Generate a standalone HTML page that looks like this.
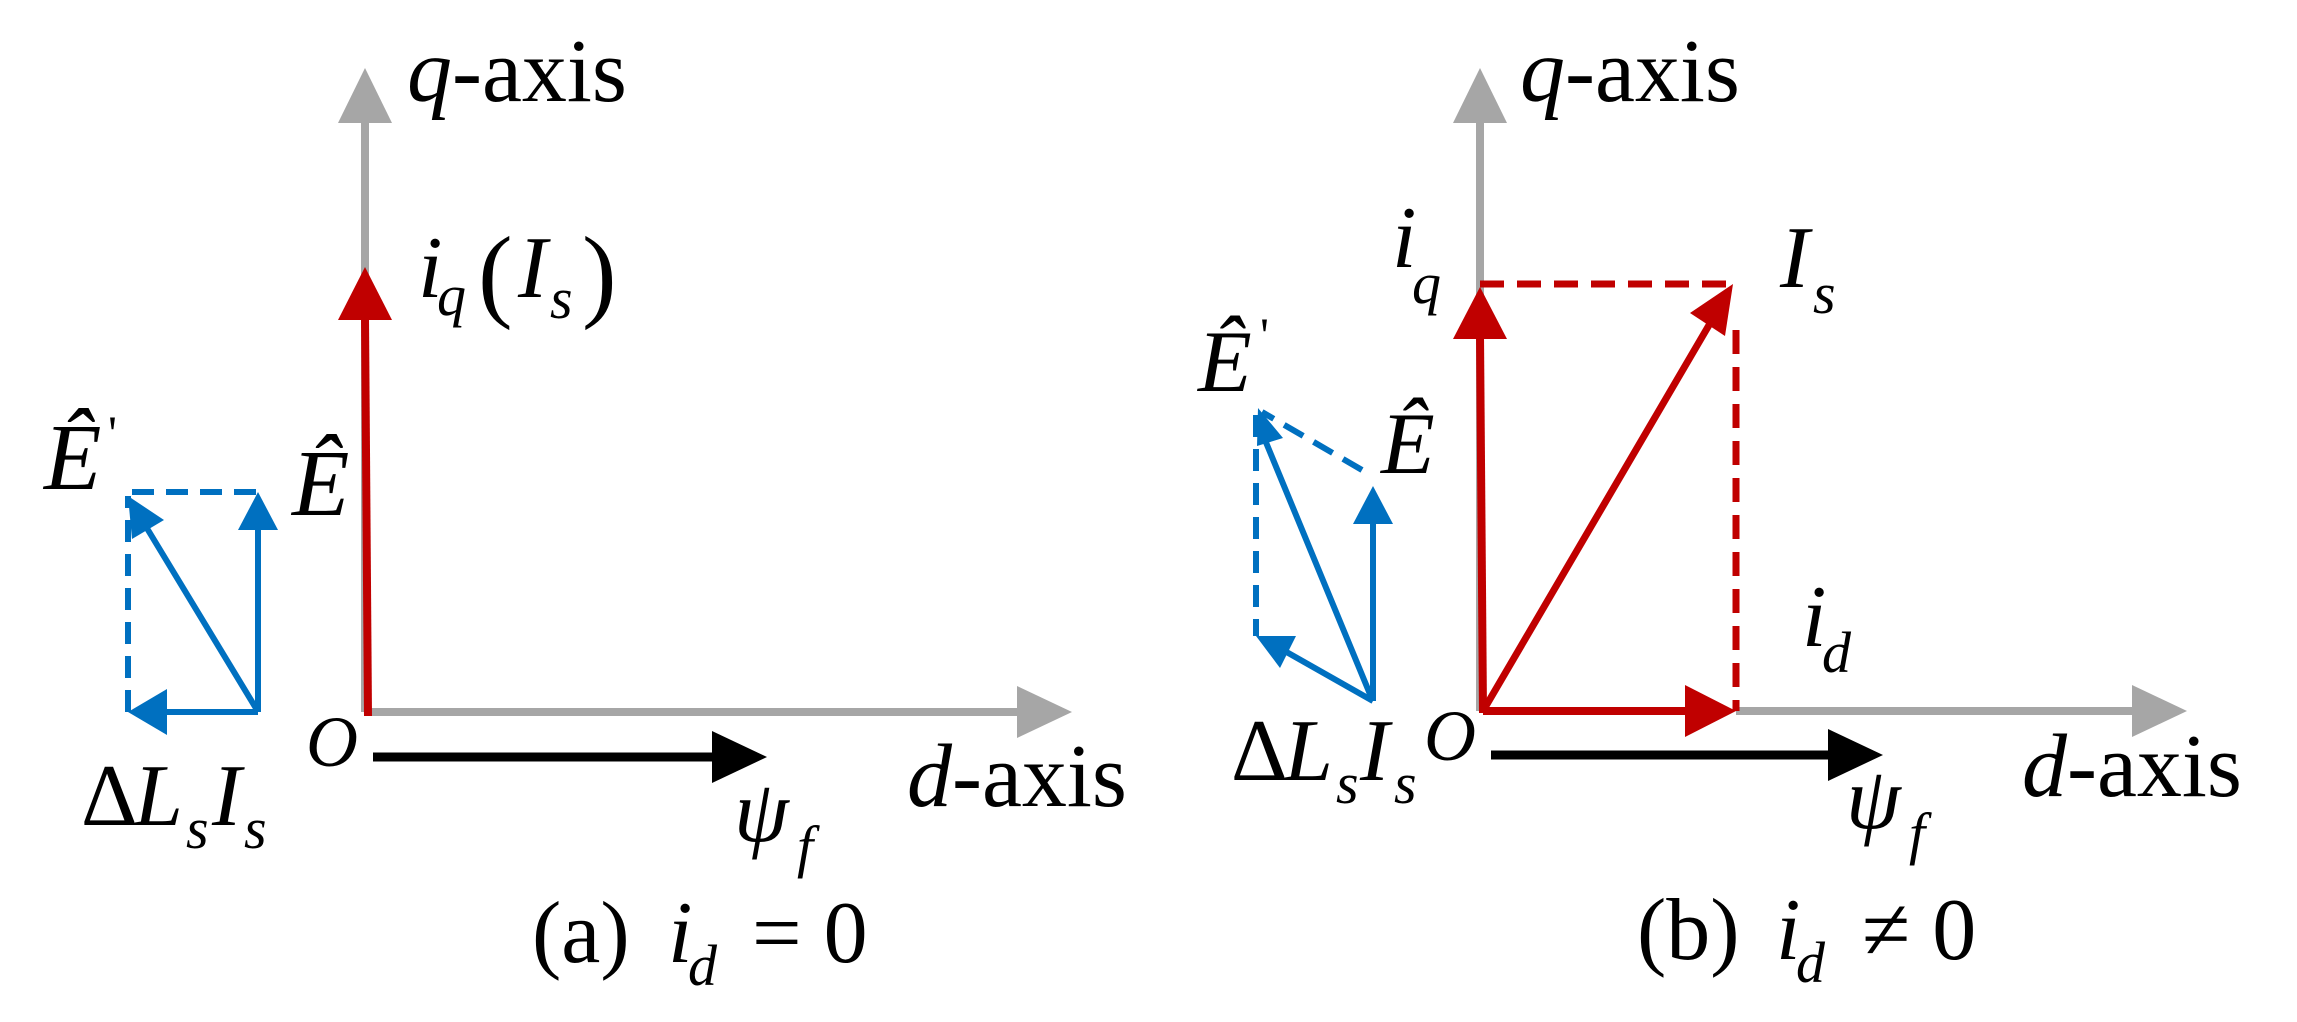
<!DOCTYPE html>
<html><head><meta charset="utf-8"><style>
html,body{margin:0;padding:0;background:#fff}
svg{display:block}
text{font-family:"Liberation Serif","DejaVu Serif",serif;fill:#000}
.i{font-style:italic}
</style></head><body>
<svg width="2297" height="1022" viewBox="0 0 2297 1022" xmlns="http://www.w3.org/2000/svg">
<!-- LEFT PANEL -->
<g stroke-linecap="butt">
<line x1="365" y1="712" x2="365" y2="120" stroke="#a6a6a6" stroke-width="8"/>
<polygon points="365,68 338,123 392,123" fill="#a6a6a6"/>
<line x1="367" y1="712" x2="1020" y2="712" stroke="#a6a6a6" stroke-width="8"/>
<polygon points="1072,712 1017,686 1017,738" fill="#a6a6a6"/>
<line x1="368" y1="716" x2="365" y2="318" stroke="#c00000" stroke-width="8"/>
<polygon points="365,267 338,320 392,320" fill="#c00000"/>
<line x1="373" y1="757" x2="715" y2="757" stroke="#000" stroke-width="9"/>
<polygon points="767,757 712,731 712,783" fill="#000"/>
<line x1="128" y1="712" x2="128" y2="496" stroke="#0070c0" stroke-width="6" stroke-dasharray="22,12"/>
<line x1="132" y1="492" x2="258" y2="492" stroke="#0070c0" stroke-width="6" stroke-dasharray="22,12"/>
<line x1="258" y1="712" x2="258" y2="525" stroke="#0070c0" stroke-width="6"/>
<polygon points="258,492 238,530 278,530" fill="#0070c0"/>
<line x1="258" y1="712" x2="165" y2="712" stroke="#0070c0" stroke-width="6"/>
<polygon points="128,712 167,689 167,735" fill="#0070c0"/>
<line x1="257" y1="710" x2="145" y2="525" stroke="#0070c0" stroke-width="6"/>
<polygon points="128,496 164,520 132,539" fill="#0070c0"/>
</g>
<text class="i" x="407" y="101" font-size="90">q<tspan font-style="normal">-axis</tspan></text>
<text class="i" x="418" y="297" font-size="88">i</text>
<text class="i" x="437" y="315" font-size="58">q</text>
<text x="478" y="308" font-size="104">(</text>
<text class="i" x="518" y="297" font-size="88">I</text>
<text class="i" x="550" y="318" font-size="58">s</text>
<text x="582" y="308" font-size="104">)</text>
<text class="i" x="292" y="515" font-size="94">Ê</text>
<text class="i" x="44" y="489" font-size="94">Ê</text>
<text x="108" y="450" font-size="50">'</text>
<text class="i" x="306" y="766" font-size="72">O</text>
<text x="81" y="825" font-size="88">Δ</text>
<text class="i" x="134" y="825" font-size="88">L</text>
<text class="i" x="186" y="848" font-size="58">s</text>
<text class="i" x="212" y="825" font-size="88">I</text>
<text class="i" x="244" y="848" font-size="58">s</text>
<text class="i" x="734" y="841" font-size="88">ψ</text>
<text class="i" x="797" y="866" font-size="58">f</text>
<text class="i" x="907" y="806" font-size="90">d<tspan font-style="normal">-axis</tspan></text>
<text x="532" y="962" font-size="88">(a)</text>
<text class="i" x="668" y="962" font-size="88">i</text>
<text class="i" x="688" y="985" font-size="58">d</text>
<text x="752" y="962" font-size="88">= 0</text>

<!-- RIGHT PANEL -->
<g>
<line x1="1480" y1="711" x2="1480" y2="120" stroke="#a6a6a6" stroke-width="8"/>
<polygon points="1480,68 1453,123 1507,123" fill="#a6a6a6"/>
<line x1="1736" y1="711" x2="2135" y2="711" stroke="#a6a6a6" stroke-width="8"/>
<polygon points="2187,711 2132,685 2132,737" fill="#a6a6a6"/>
<line x1="1483" y1="713" x2="1480" y2="335" stroke="#c00000" stroke-width="8"/>
<polygon points="1480,287 1453,339 1507,339" fill="#c00000"/>
<line x1="1480" y1="284" x2="1736" y2="284" stroke="#c00000" stroke-width="7" stroke-dasharray="24,13"/>
<line x1="1736" y1="330" x2="1736" y2="711" stroke="#c00000" stroke-width="7" stroke-dasharray="24,13"/>
<line x1="1483" y1="711" x2="1690" y2="711" stroke="#c00000" stroke-width="8"/>
<polygon points="1736,711 1685,685 1685,737" fill="#c00000"/>
<line x1="1483" y1="711" x2="1712" y2="320" stroke="#c00000" stroke-width="7"/>
<polygon points="1733,284 1690,313 1725,336" fill="#c00000"/>
<line x1="1491" y1="755" x2="1830" y2="755" stroke="#000" stroke-width="9"/>
<polygon points="1883,755 1828,729 1828,781" fill="#000"/>
<line x1="1256" y1="415" x2="1256" y2="636" stroke="#0070c0" stroke-width="6" stroke-dasharray="22,12"/>
<line x1="1362" y1="470" x2="1262" y2="412" stroke="#0070c0" stroke-width="6" stroke-dasharray="22,12"/>
<line x1="1373" y1="701" x2="1373" y2="520" stroke="#0070c0" stroke-width="6"/>
<polygon points="1373,486 1353,524 1393,524" fill="#0070c0"/>
<line x1="1373" y1="701" x2="1283" y2="650" stroke="#0070c0" stroke-width="6"/>
<polygon points="1256,636 1296,636 1280,668" fill="#0070c0"/>
<line x1="1372" y1="699" x2="1265" y2="440" stroke="#0070c0" stroke-width="6"/>
<polygon points="1258,408 1283,438 1257,446" fill="#0070c0"/>
</g>
<text class="i" x="1520" y="101" font-size="90">q<tspan font-style="normal">-axis</tspan></text>
<text class="i" x="1392" y="267" font-size="88">i</text>
<text class="i" x="1412" y="303" font-size="58">q</text>
<text class="i" x="1780" y="287" font-size="88">I</text>
<text class="i" x="1813" y="313" font-size="58">s</text>
<text class="i" x="1802" y="646" font-size="88">i</text>
<text class="i" x="1822" y="672" font-size="58">d</text>
<text class="i" x="1381" y="473" font-size="88">Ê</text>
<text class="i" x="1198" y="391" font-size="88">Ê</text>
<text x="1260" y="352" font-size="50">'</text>
<text class="i" x="1424" y="760" font-size="72">O</text>
<text x="1231" y="780" font-size="88">Δ</text>
<text class="i" x="1284" y="780" font-size="88">L</text>
<text class="i" x="1336" y="803" font-size="58">s</text>
<text class="i" x="1360" y="780" font-size="88">I</text>
<text class="i" x="1394" y="803" font-size="58">s</text>
<text class="i" x="1846" y="828" font-size="88">ψ</text>
<text class="i" x="1909" y="853" font-size="58">f</text>
<text class="i" x="2022" y="796" font-size="90">d<tspan font-style="normal">-axis</tspan></text>
<text x="1637" y="959" font-size="88">(b)</text>
<text class="i" x="1776" y="959" font-size="88">i</text>
<text class="i" x="1796" y="982" font-size="58">d</text>
<text x="1862" y="959" font-size="88">≠ 0</text>
</svg>
</body></html>
